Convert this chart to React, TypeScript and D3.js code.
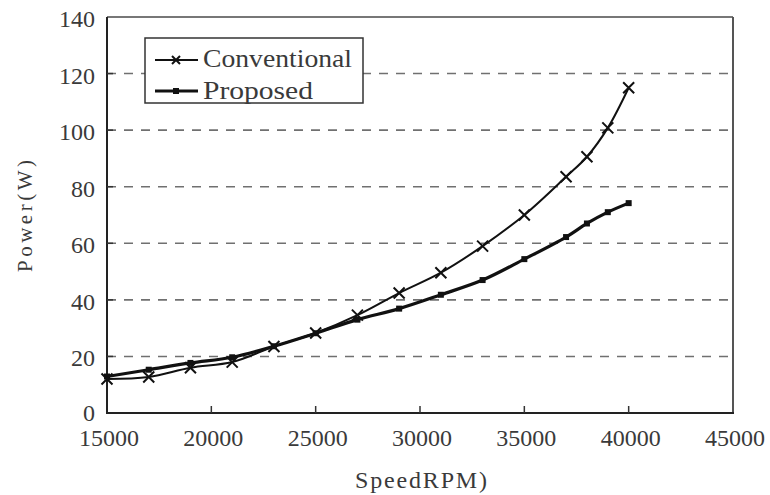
import React from "react";
import * as d3 from "d3";

// Motor speed (RPM) at each measured point
const speeds = [15000, 17000, 19000, 21000, 23000, 25000, 27000, 29000, 31000, 33000, 35000, 37000, 38000, 39000, 40000];
// Power draw (W) for each drive scheme
const conventional = [12, 12.7, 16, 18, 23.5, 28.3, 34.6, 42.4, 49.6, 59, 70, 83.5, 90.6, 100.8, 115];
const proposed = [12.9, 15.3, 17.7, 19.7, 23.6, 28.2, 33, 36.9, 41.8, 47, 54.4, 62.2, 67, 71, 74.2];

const xTicks = [15000, 20000, 25000, 30000, 35000, 40000, 45000];
const yTicks = [0, 20, 40, 60, 80, 100, 120, 140];

const seriesNames = ["Conventional", "Proposed"];
const xTitle = "SpeedRPM)";
const yTitle = "Power(W)";

const W = 770;
const H = 495;
const M = { left: 107, right: 733, top: 17, bottom: 413 };
const FONT = "'Liberation Serif', 'DejaVu Serif', serif";
const TEXT = "#3a3a3a";

export default function App() {
  const x = d3.scaleLinear().domain([15000, 45000]).range([M.left, M.right]);
  const y = d3.scaleLinear().domain([0, 140]).range([M.bottom, M.top]);

  const line = d3
    .line<number>()
    .x((_, i) => x(speeds[i]))
    .y((d) => y(d))
    .curve(d3.curveCatmullRom.alpha(0.5));

  const cross = (cx: number, cy: number, r: number, key: string | number) => (
    <path
      key={key}
      d={`M${cx - r},${cy - r}L${cx + r},${cy + r}M${cx - r},${cy + r}L${cx + r},${cy - r}`}
      stroke="#111"
      strokeWidth={2}
      fill="none"
    />
  );

  return (
    <svg
      width={W}
      height={H}
      style={{ position: "absolute", left: 0, top: 0, background: "#fff" }}
      fontFamily={FONT}
    >
      {/* horizontal dashed gridlines */}
      {yTicks
        .filter((t) => t > 0 && t < 140)
        .map((t) => (
          <line
            key={`g${t}`}
            x1={M.left}
            x2={M.right}
            y1={y(t)}
            y2={y(t)}
            stroke="#707070"
            strokeWidth={1.6}
            strokeDasharray="9 8"
          />
        ))}

      {/* frame */}
      <line x1={M.left} x2={M.right} y1={M.top} y2={M.top} stroke="#777" strokeWidth={2} />
      <line x1={M.right} x2={M.right} y1={M.top} y2={M.bottom} stroke="#555" strokeWidth={2} />
      <line x1={M.left} x2={M.left} y1={M.top} y2={M.bottom + 1} stroke="#222" strokeWidth={2} />
      <line x1={M.left - 1} x2={M.right + 1} y1={M.bottom} y2={M.bottom} stroke="#222" strokeWidth={2} />

      {/* x tick marks (inside) */}
      {xTicks.slice(1, -1).map((t) => (
        <line key={`xt${t}`} x1={x(t)} x2={x(t)} y1={M.bottom} y2={M.bottom - 7} stroke="#333" strokeWidth={1.5} />
      ))}
      {/* y tick marks (inside) */}
      {yTicks.slice(1, -1).map((t) => (
        <line key={`yt${t}`} x1={M.left} x2={M.left + 6} y1={y(t)} y2={y(t)} stroke="#333" strokeWidth={1.5} />
      ))}

      {/* tick labels */}
      {yTicks.map((t) => (
        <text key={`yl${t}`} x={M.left - 12} y={y(t) + (t === 0 ? 8 : 10)} textAnchor="end" fontSize={24} fill={TEXT}>
          {t}
        </text>
      ))}
      {xTicks.map((t) => (
        <text key={`xl${t}`} x={x(t) + 2} y={446} textAnchor="middle" fontSize={24} fill={TEXT}>
          {t}
        </text>
      ))}

      {/* axis titles */}
      <text x={355} y={488} fontSize={24} fill={TEXT} textLength={132} lengthAdjust="spacing">
        {xTitle}
      </text>
      <text
        transform="translate(32,272) rotate(-90)"
        fontSize={21}
        fill={TEXT}
        textLength={112}
        lengthAdjust="spacing"
      >
        {yTitle}
      </text>

      {/* proposed series: thick line with small dots */}
      <path d={line(proposed) ?? ""} fill="none" stroke="#111" strokeWidth={3.2} />
      {proposed.map((v, i) => (
        <rect key={`p${i}`} x={x(speeds[i]) - 3} y={y(v) - 3} width={6} height={6} fill="#111" />
      ))}

      {/* conventional series: thin line with crosses */}
      <path d={line(conventional) ?? ""} fill="none" stroke="#111" strokeWidth={2} />
      {conventional.map((v, i) => cross(x(speeds[i]), y(v), 5.5, `c${i}`))}

      {/* legend */}
      <rect x={145} y={38} width={218} height={65} fill="#fff" stroke="#333" strokeWidth={1.5} />
      <line x1={155} x2={198} y1={60} y2={60} stroke="#111" strokeWidth={2} />
      {cross(176, 60, 4, "lc")}
      <text x={203} y={67} fontSize={26} fill={TEXT} textLength={149} lengthAdjust="spacingAndGlyphs">
        {seriesNames[0]}
      </text>
      <line x1={155} x2={198} y1={91} y2={91} stroke="#111" strokeWidth={3.2} />
      <rect x={173} y={88} width={6} height={6} fill="#111" />
      <text x={203} y={99} fontSize={26} fill={TEXT} textLength={110} lengthAdjust="spacingAndGlyphs">
        {seriesNames[1]}
      </text>
    </svg>
  );
}
